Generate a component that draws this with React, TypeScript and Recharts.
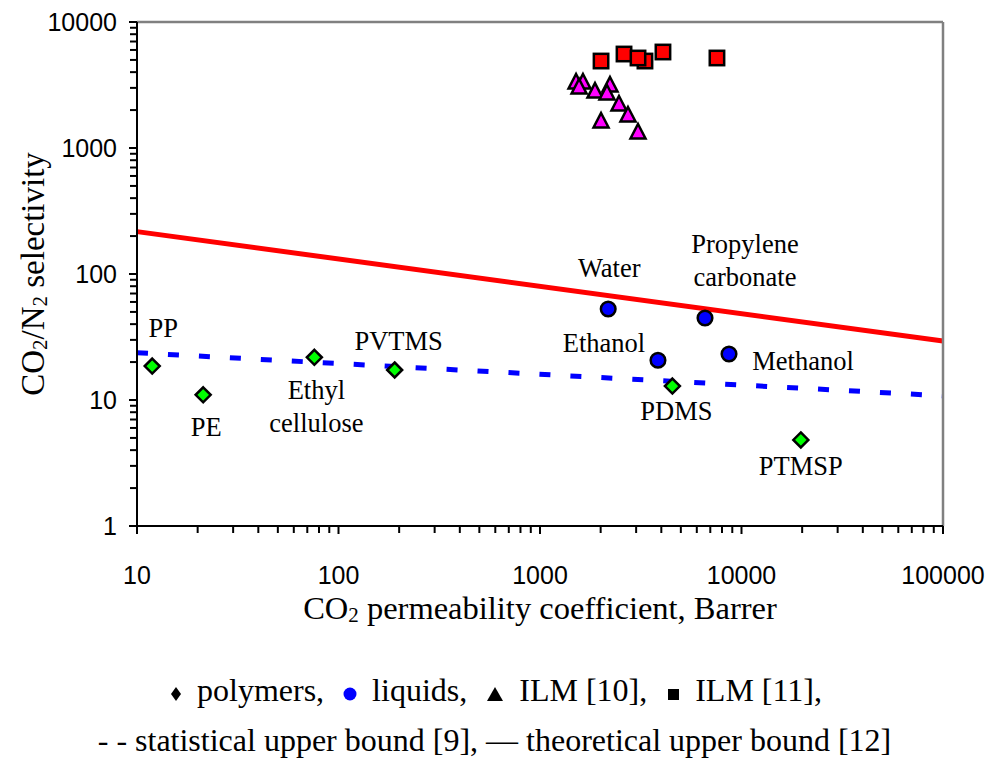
import React from 'react';
import { ScatterChart, Scatter, XAxis, YAxis, ReferenceLine } from 'recharts';

const xMajorTicks = [10, 100, 1000, 10000, 100000];
const yMajorTicks = [1, 10, 100, 1000, 10000];
const minorMultipliers = [2, 3, 4, 5, 6, 7, 8, 9];

const polymers = [
  { name: 'PP', x: 11.9, y: 18.6 },
  { name: 'PE', x: 21.3, y: 11.0 },
  { name: 'Ethyl cellulose', x: 75.9, y: 21.8 },
  { name: 'PVTMS', x: 190, y: 17.3 },
  { name: 'PDMS', x: 4540, y: 12.9 },
  { name: 'PTMSP', x: 19700, y: 4.82 },
];

const liquids = [
  { name: 'Water', x: 2180, y: 52.8 },
  { name: 'Propylene carbonate', x: 6590, y: 44.8 },
  { name: 'Ethanol', x: 3850, y: 20.7 },
  { name: 'Methanol', x: 8670, y: 23.2 },
];

const ilm10 = [
  { x: 1510, y: 3340 },
  { x: 1634, y: 3340 },
  { x: 1563, y: 3050 },
  { x: 1875, y: 2830 },
  { x: 2225, y: 3160 },
  { x: 2150, y: 2733 },
  { x: 2466, y: 2235 },
  { x: 2733, y: 1828 },
  { x: 2009, y: 1637 },
  { x: 3065, y: 1340 },
];

const ilm11 = [
  { x: 2009, y: 4900 },
  { x: 2612, y: 5570 },
  { x: 3318, y: 4900 },
  { x: 3065, y: 5180 },
  { x: 4076, y: 5780 },
  { x: 7555, y: 5180 },
];

const statisticalBound = [
  { x: 10, y: 23.7 },
  { x: 100000, y: 10.8 },
];

const theoreticalBound = [
  { x: 10, y: 217 },
  { x: 100000, y: 29.4 },
];

// annotation placement (pixel offsets from the marker centre)
const labelLayout: Record<string, { dx: number; lines: { text: string; dy: number }[] }> = {
  PP: { dx: 11, lines: [{ text: 'PP', dy: -38 }] },
  PE: { dx: 3, lines: [{ text: 'PE', dy: 32 }] },
  'Ethyl cellulose': { dx: 2, lines: [{ text: 'Ethyl', dy: 33 }, { text: 'cellulose', dy: 66 }] },
  PVTMS: { dx: 4, lines: [{ text: 'PVTMS', dy: -29 }] },
  PDMS: { dx: 4, lines: [{ text: 'PDMS', dy: 25 }] },
  PTMSP: { dx: 0, lines: [{ text: 'PTMSP', dy: 26 }] },
  Water: { dx: 1, lines: [{ text: 'Water', dy: -41 }] },
  'Propylene carbonate': { dx: 40, lines: [{ text: 'Propylene', dy: -74 }, { text: 'carbonate', dy: -41 }] },
  Ethanol: { dx: -54, lines: [{ text: 'Ethanol', dy: -17 }] },
  Methanol: { dx: 74, lines: [{ text: 'Methanol', dy: 7 }] },
};

const SERIF = "'Liberation Serif', 'Times New Roman', serif";
const SANS = "'Liberation Sans', Arial, sans-serif";

const buildTicks = (majors: number[]) => {
  const out: number[] = [];
  majors.forEach((m, i) => {
    out.push(m);
    if (i < majors.length - 1) minorMultipliers.forEach((k) => out.push(m * k));
  });
  return out;
};
const xTicks = buildTicks(xMajorTicks);
const yTicks = buildTicks(yMajorTicks);

const renderLabel = (name: string, cx: number, cy: number) => {
  const l = labelLayout[name];
  if (!l) return null;
  return l.lines.map((ln, i) => (
    <text
      key={i}
      x={cx + l.dx}
      y={cy + ln.dy}
      textAnchor="middle"
      dominantBaseline="central"
      fontFamily={SERIF}
      fontSize={26.5}
      fill="#000"
    >
      {ln.text}
    </text>
  ));
};

const DiamondShape = (props: any) => {
  const { cx, cy, payload } = props;
  const h = 7.5;
  return (
    <g>
      <polygon
        points={`${cx},${cy - h} ${cx + h},${cy} ${cx},${cy + h} ${cx - h},${cy}`}
        fill="#00FF00"
        stroke="#000"
        strokeWidth={2.5}
      />
      {renderLabel(payload.name, cx, cy)}
    </g>
  );
};

const CircleShape = (props: any) => {
  const { cx, cy, payload } = props;
  return (
    <g>
      <circle cx={cx} cy={cy} r={7.3} fill="#0000FF" stroke="#000" strokeWidth={2.5} />
      {renderLabel(payload.name, cx, cy)}
    </g>
  );
};

const TriangleShape = (props: any) => {
  const { cx, cy } = props;
  return (
    <polygon
      points={`${cx},${cy - 8} ${cx + 7.5},${cy + 6.5} ${cx - 7.5},${cy + 6.5}`}
      fill="#FF00FF"
      stroke="#000"
      strokeWidth={2.5}
    />
  );
};

const SquareShape = (props: any) => {
  const { cx, cy } = props;
  return (
    <rect x={cx - 7.2} y={cy - 7.2} width={14.4} height={14.4} fill="#FF0000" stroke="#000" strokeWidth={2.5} />
  );
};

const XTick = (props: any) => {
  const { x, y, payload } = props;
  const isMajor = xMajorTicks.includes(payload.value);
  return (
    <g>
      <line x1={x} y1={y} x2={x} y2={y + (isMajor ? 8 : 7)} stroke="#000" strokeWidth={2} />
      {isMajor && (
        <text x={x} y={y + 49} textAnchor="middle" dominantBaseline="central" fontFamily={SANS} fontSize={25} fill="#000">
          {payload.value}
        </text>
      )}
    </g>
  );
};

const YTick = (props: any) => {
  const { x, y, payload } = props;
  const isMajor = yMajorTicks.includes(payload.value);
  return (
    <g>
      <line x1={x} y1={y} x2={x - (isMajor ? 8 : 7)} y2={y} stroke="#000" strokeWidth={2} />
      {isMajor && (
        <text x={x - 20} y={y} textAnchor="end" dominantBaseline="central" fontFamily={SANS} fontSize={25} fill="#000">
          {payload.value}
        </text>
      )}
    </g>
  );
};

const XTitle = (props: any) => {
  const vb = props.viewBox || { x: 137, y: 526, width: 806 };
  const cx = vb.x + vb.width / 2;
  return (
    <text x={cx} y={vb.y + 82} textAnchor="middle" dominantBaseline="central" fontFamily={SERIF} fontSize={32.5} fill="#000">
      CO
      <tspan fontSize={21} dy={7}>2</tspan>
      <tspan dy={-7}> permeability coefficient, Barrer</tspan>
    </text>
  );
};

const YTitle = (props: any) => {
  const vb = props.viewBox || { x: 0, y: 22, height: 504 };
  const cx = 33;
  const cy = vb.y + vb.height / 2;
  return (
    <text
      x={cx}
      y={cy}
      transform={`rotate(-90, ${cx}, ${cy})`}
      textAnchor="middle"
      dominantBaseline="central"
      fontFamily={SERIF}
      fontSize={33}
      fill="#000"
    >
      CO
      <tspan fontSize={21} dy={7}>2</tspan>
      <tspan dy={-7}>/N</tspan>
      <tspan fontSize={21} dy={7}>2</tspan>
      <tspan dy={-7}> selectivity</tspan>
    </text>
  );
};

const Sym = ({ children, w = 18 }: any) => (
  <svg
    width={w}
    height={20}
    viewBox={`0 0 ${w} 20`}
    style={{ display: 'inline-block', verticalAlign: 'middle', margin: '0 15px 0 3px' }}
  >
    {children}
  </svg>
);

const legendStyle: React.CSSProperties = {
  position: 'absolute',
  left: 0,
  width: 989,
  textAlign: 'center',
  fontFamily: SERIF,
  fontSize: 32,
  lineHeight: '40px',
  whiteSpace: 'pre',
};

export default function App() {
  return (
    <div style={{ position: 'absolute', left: 0, top: 0, width: 989, height: 762, background: '#fff' }}>
      <ScatterChart width={989} height={762} margin={{ top: 22, right: 46, bottom: 136, left: 0 }}>
        <XAxis
          type="number"
          dataKey="x"
          scale="log"
          domain={[10, 100000]}
          ticks={xTicks}
          interval={0}
          allowDataOverflow
          height={100}
          tickSize={0}
          tickMargin={0}
          tickLine={false}
          axisLine={{ stroke: '#000', strokeWidth: 2 }}
          tick={<XTick />}
          label={<XTitle />}
        />
        <YAxis
          type="number"
          dataKey="y"
          scale="log"
          domain={[1, 10000]}
          ticks={yTicks}
          interval={0}
          allowDataOverflow
          width={137}
          tickSize={0}
          tickMargin={0}
          tickLine={false}
          axisLine={{ stroke: '#000', strokeWidth: 2 }}
          tick={<YTick />}
          label={<YTitle />}
        />
        <ReferenceLine
          segment={statisticalBound}
          stroke="#0000FF"
          strokeWidth={5}
          strokeDasharray="11 20"
          ifOverflow="visible"
        />
        <ReferenceLine segment={theoreticalBound} stroke="#FF0000" strokeWidth={5} ifOverflow="visible" />
        <ReferenceLine y={10000} stroke="#808080" strokeWidth={2.5} ifOverflow="visible" />
        <ReferenceLine x={100000} stroke="#808080" strokeWidth={2.5} ifOverflow="visible" />
        <Scatter name="polymers" data={polymers} shape={<DiamondShape />} isAnimationActive={false} />
        <Scatter name="liquids" data={liquids} shape={<CircleShape />} isAnimationActive={false} />
        <Scatter name="ILM [10]" data={ilm10} shape={<TriangleShape />} isAnimationActive={false} />
        <Scatter name="ILM [11]" data={ilm11} shape={<SquareShape />} isAnimationActive={false} />
      </ScatterChart>
      <div style={{ ...legendStyle, top: 670 }}>
        <Sym w={12}>
          <polygon points="6,3 11,10 6,17 1,10" fill="#000" />
        </Sym>
        {'polymers,  '}
        <Sym w={14}>
          <circle cx={7} cy={10} r={6.5} fill="#0000FF" />
        </Sym>
        {'liquids,  '}
        <Sym w={18}>
          <polygon points="9,3 17,17 1,17" fill="#000" />
        </Sym>
        {'ILM [10],  '}
        <Sym w={14}>
          <rect x={2} y={5} width={11} height={11} fill="#000" />
        </Sym>
        {'ILM [11],'}
      </div>
      <div style={{ ...legendStyle, top: 720 }}>
        {'- - statistical upper bound [9], \u2014 theoretical upper bound [12]'}
      </div>
    </div>
  );
}
